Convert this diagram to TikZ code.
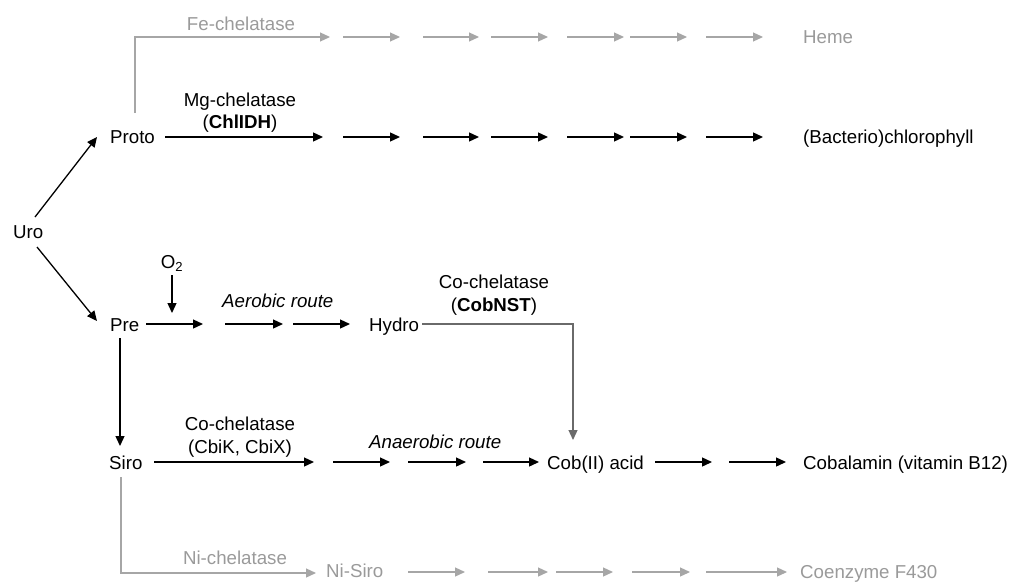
\documentclass[tikz,border=0pt]{standalone}
\usepackage{fontspec}
\setmainfont{Liberation Sans}
\usetikzlibrary{arrows.meta}
\definecolor{lgray}{HTML}{A6A6A6}
\definecolor{tgray}{HTML}{9A9A9A}
\definecolor{dgray}{HTML}{6A6A6A}
\begin{document}
\begin{tikzpicture}[x=1pt,y=-1pt,
  font=\fontsize{18.7}{22}\selectfont,
  lbl/.style={inner sep=0pt, anchor=base west},
  clbl/.style={inner sep=0pt, anchor=base},
  glbl/.style={lbl, text=tgray},
  arr/.style={-{Triangle[length=10pt,width=9pt]}, line width=1.3pt, draw=black},
  garr/.style={-{Triangle[length=10pt,width=9pt]}, line width=1.2pt, draw=lgray},
  darr/.style={-{Triangle[length=10pt,width=9pt]}, line width=1.2pt, draw=dgray}]
\useasboundingbox (0,0) rectangle (1011,581);

% ---- main nodes
\node[lbl] (uro) at (13,238.7) {Uro};
\node[lbl] (proto) at (110,143.7) {Proto};
\node[lbl] (bchl) at (803,143.7) {(Bacterio)chlorophyll};
\node[glbl] (heme) at (803,43.7) {Heme};
\node[lbl] (pre) at (110,331) {Pre};
\node[lbl] (hydro) at (369,331) {Hydro};
\node[lbl] (siro) at (109,469) {Siro};
\node[lbl] (cob) at (547,469) {Cob(II) acid};
\node[lbl] (cbl) at (803,469) {Cobalamin (vitamin B12)};
\node[glbl] (nisiro) at (326,577) {Ni-Siro};
\node[glbl] (f430) at (800,578.7) {Coenzyme F430};

% ---- labels
\node[clbl, text=tgray] (fechel) at (241,30.7) {Fe-chelatase};
\node[clbl] (mgchel) at (240,106.7) {Mg-chelatase};
\node[clbl] (chlidh) at (240,128.7) {(\textbf{ChlIDH})};
\node[clbl] (o2) at (172,268.7) {O\textsubscript{2}};
\node[lbl] (aer) at (222,307.7) {\itshape Aerobic route};
\node[clbl] (cochel1) at (494,288.7) {Co-chelatase};
\node[clbl] (cobnst) at (494,311.7) {(\textbf{CobNST})};
\node[clbl] (cochel2) at (240,430.7) {Co-chelatase};
\node[clbl] (cbik) at (240,453.7) {(CbiK, CbiX)};
\node[lbl] (anaer) at (369,448.7) {\itshape Anaerobic route};
\node[clbl, text=tgray] (nichel) at (235,564.7) {Ni-chelatase};

% ---- branch connectors from Uro
\coordinate (uA) at (35,217);
\coordinate (uB) at (37,247);
\coordinate (protoIn) at (97,137);
\coordinate (preIn) at (97,321);
\draw[arr] (uA) -- (protoIn);
\draw[arr] (uB) -- (preIn);

% ---- heme branch (gray)
\coordinate (protoUp) at (135,113);
\coordinate (fe0) at (330,37);
\draw[garr] (protoUp) |- (fe0);
\foreach \i/\a/\b in {1/343/400,2/423/479,3/491/548,4/567/624,5/630/687,6/706/763}{
  \coordinate (hs\i) at (\a,37);
  \coordinate (he\i) at (\b,37);
  \draw[garr] (hs\i) -- (he\i);
}

% ---- chlorophyll branch
\coordinate (ch0s) at (165,137);
\coordinate (ch0e) at (323,137);
\draw[arr] (ch0s) -- (ch0e);
\foreach \i/\a/\b in {1/343/400,2/423/479,3/491/548,4/567/624,5/630/687,6/706/763}{
  \coordinate (cs\i) at (\a,137);
  \coordinate (ce\i) at (\b,137);
  \draw[arr] (cs\i) -- (ce\i);
}

% ---- aerobic route
\coordinate (o2s) at (172,275);
\coordinate (o2e) at (172,313);
\draw[arr] (o2s) -- (o2e);
\foreach \i/\a/\b in {1/146/203,2/225/283,3/293/350}{
  \coordinate (as\i) at (\a,324);
  \coordinate (ae\i) at (\b,324);
  \draw[arr] (as\i) -- (ae\i);
}
\coordinate (hydroOut) at (422,324);
\coordinate (cobIn) at (573,440);
\draw[darr] (hydroOut) -| (cobIn);

% ---- Pre to Siro
\coordinate (preDown) at (120,338);
\coordinate (siroIn) at (120,446);
\draw[arr] (preDown) -- (siroIn);

% ---- anaerobic route
\foreach \i/\a/\b in {1/154/314,2/333/390,3/408/466,4/483/539,5/655/712,6/729/786}{
  \coordinate (ns\i) at (\a,462);
  \coordinate (ne\i) at (\b,462);
  \draw[arr] (ns\i) -- (ne\i);
}

% ---- F430 branch (gray)
\coordinate (siroDown) at (121,477);
\coordinate (niIn) at (316,573);
\draw[garr] (siroDown) |- (niIn);
\foreach \i/\a/\b in {1/408/465,2/488/548,3/556/613,4/632/690,5/706/787}{
  \coordinate (fs\i) at (\a,572);
  \coordinate (fe\i) at (\b,572);
  \draw[garr] (fs\i) -- (fe\i);
}
\end{tikzpicture}
\end{document}
